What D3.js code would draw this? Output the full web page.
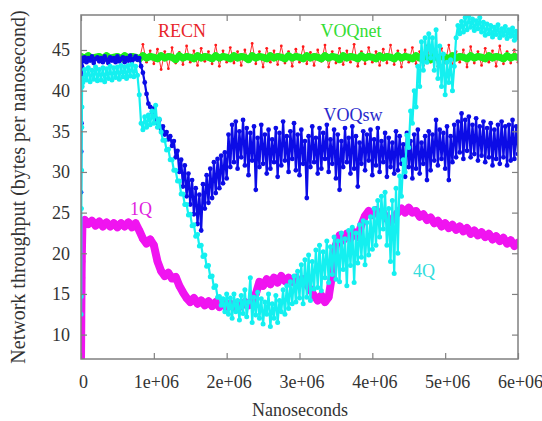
<!DOCTYPE html>
<html><head><meta charset="utf-8">
<script src="https://cdn.jsdelivr.net/npm/d3@7"></script>
<style>
body{margin:0;background:#fff}
svg text{font-family:"Liberation Serif","Times New Roman","DejaVu Serif",serif}
</style>
</head><body>
<svg id="c" width="542" height="421"></svg>
<script>
// ---------- data ----------
const xTicks = [0, 1e6, 2e6, 3e6, 4e6, 5e6, 6e6];
const xTickLabels = ["0", "1e+06", "2e+06", "3e+06", "4e+06", "5e+06", "6e+06"];
const yTicks = [10, 15, 20, 25, 30, 35, 40, 45];
const fineStep = 25000;    // ns between samples (VOQsw, 4Q)
const coarseStep = 50000;  // ns between samples (RECN, VOQnet, 1Q)

// RECN, samples at t = i*coarseStep, i = 0..120
const recn = [
 43.8,44.0,43.7,44.1,43.8,43.9,43.6,44.0,43.8,44.1,
 43.7,43.9,43.8,44.0,43.7,43.9,43.8,45.7,43.5,44.9,
 43.3,45.1,42.6,44.8,42.7,45.3,43.4,44.7,43.2,45.5,
 43.5,44.9,43.1,45.2,43.6,44.8,43.3,45.6,43.0,44.9,
 43.5,45.3,43.4,44.8,43.1,45.0,43.6,45.8,43.3,44.8,
 42.9,45.2,43.5,44.9,43.2,45.5,43.4,44.8,43.0,45.1,
 43.5,45.4,43.3,44.7,43.1,45.0,43.6,45.6,42.9,44.8,
 43.4,45.2,43.2,44.9,43.5,45.7,43.0,44.8,43.3,45.3,
 43.5,44.8,43.1,45.1,43.4,45.6,43.2,44.9,42.9,45.0,
 43.5,45.3,43.3,44.8,43.1,45.5,43.5,44.9,43.0,45.2,
 43.4,45.6,43.2,44.8,43.5,45.0,42.9,45.4,43.4,44.8,
 43.1,45.2,43.5,44.9,43.0,45.5,43.3,44.8,43.4,45.0,
 43.5];

// VOQnet, samples at t = i*coarseStep, i = 0..120
const voqnet = [
 44.2,44.0,44.3,43.9,44.1,44.2,43.9,44.3,44.0,44.1,
 44.2,43.9,44.3,44.0,44.2,44.1,43.9,44.3,44.0,44.2,
 44.1,43.9,44.3,44.0,44.2,44.1,43.8,44.3,44.0,44.2,
 44.1,43.9,44.3,44.0,44.2,44.1,43.9,44.3,44.0,44.2,
 44.1,43.9,44.3,44.0,44.2,44.1,43.8,44.3,44.0,44.2,
 44.1,43.9,44.3,44.0,44.2,44.1,43.9,44.3,44.0,44.2,
 44.1,43.9,44.3,44.0,44.2,44.1,43.9,44.3,44.0,44.2,
 44.1,43.8,44.3,44.0,44.2,44.1,43.9,44.3,44.0,44.2,
 44.1,43.9,44.3,44.0,44.2,44.1,43.9,44.3,44.0,44.2,
 44.1,43.9,44.3,44.0,44.2,44.1,43.8,44.3,44.0,44.2,
 44.1,43.9,44.3,44.0,44.2,44.1,43.9,44.3,44.0,44.2,
 44.1,43.9,44.3,44.0,44.2,44.1,43.9,44.3,44.0,44.2,
 44.1];

// VOQsw start-up samples, then t = i*fineStep, i = 1..240
const voqswStartT = [0, 3000, 6000, 9000, 12000, 16000, 20000];
const voqswStartV = [27.5, 32.5, 36.0, 40.5, 43.0, 43.8, 44.0];
const voqsw = [
 43.6,44.1,43.5,44.0,43.7,44.2,43.4,43.9,44.1,43.6,
 44.0,43.5,44.2,43.8,43.4,44.1,43.7,44.0,43.5,44.2,
 43.6,43.9,44.1,43.5,44.0,43.7,44.3,43.6,43.9,44.2,
 43.8,44.0,43.0,42.2,41.0,39.6,38.4,38.0,37.4,37.8,
 36.6,36.0,36.4,35.2,35.6,34.6,34.9,34.0,34.4,33.2,
 33.8,31.8,32.6,30.0,31.5,28.2,30.8,27.0,29.8,26.0,
 29.0,24.8,28.0,23.6,27.2,22.8,28.5,25.5,29.6,26.2,
 30.4,26.8,31.2,27.4,31.6,28.0,32.0,28.6,32.4,29.2,
 34.6,30.6,35.8,31.2,36.2,30.4,35.0,31.8,36.4,30.8,
 35.4,29.6,34.8,31.4,35.6,27.8,34.2,30.6,35.8,31.0,
 34.6,29.8,35.2,30.4,34.0,31.2,35.4,29.4,34.8,30.8,
 36.2,31.4,34.4,30.0,35.0,31.6,36.0,30.2,34.6,29.6,
 35.2,31.0,33.8,26.8,34.4,30.6,35.6,31.2,34.2,29.8,
 35.4,30.4,34.8,31.6,35.8,30.0,34.0,31.0,35.2,29.2,
 34.6,27.8,33.8,30.6,35.4,31.2,34.2,29.8,35.6,30.4,
 34.4,28.2,33.6,31.0,35.0,30.2,34.6,31.4,35.2,29.6,
 34.0,30.8,35.4,30.0,33.8,31.2,34.8,29.4,34.2,30.6,
 33.6,29.8,35.0,30.2,34.4,31.0,33.4,29.4,34.8,30.6,
 33.8,29.2,34.6,30.4,35.2,29.8,33.6,31.0,34.4,29.0,
 35.0,30.2,34.6,31.4,36.4,30.8,35.2,31.6,34.8,30.4,
 35.6,29.0,34.4,31.2,35.8,31.8,36.2,32.4,37.2,31.6,
 36.4,32.6,36.8,31.8,35.8,32.2,36.6,31.4,35.6,32.0,
 36.2,31.2,35.4,31.8,36.0,30.8,35.2,31.6,35.8,31.0,
 36.2,31.8,35.6,30.8,35.8,31.4,36.4,31.6,35.6,32.2];

// 1Q start-up samples, then t = i*coarseStep, i = 1..120
const oneQStartT = [0, 2000, 4000, 6000, 8000, 10000, 14000, 18000, 22000];
const oneQStartV = [7.0, 9.5, 12.0, 14.7, 17.0, 19.0, 21.0, 22.8, 23.8];
const oneQ = [
 24.1,23.6,24.0,23.4,23.9,23.3,23.8,23.3,23.7,23.2,
 23.7,23.3,23.8,23.2,23.7,22.8,21.8,21.2,21.7,21.0,
 19.0,17.8,17.2,17.6,16.9,17.1,16.0,15.2,14.5,14.0,
 14.5,13.8,14.2,13.6,14.1,13.5,14.0,13.4,13.9,13.3,
 13.8,13.4,13.9,13.5,14.0,13.6,14.0,15.0,16.5,16.0,
 16.8,16.2,17.0,16.4,17.2,16.6,17.0,16.5,17.0,16.4,
 16.8,16.2,15.5,14.8,14.2,14.8,14.0,14.6,17.5,21.0,
 22.2,21.6,22.4,21.8,22.6,22.0,23.5,24.6,25.2,24.7,
 25.3,24.8,25.0,24.2,23.8,24.5,25.0,25.5,25.0,25.6,
 25.0,25.2,24.5,24.8,24.1,24.4,23.7,24.0,23.3,23.7,
 23.1,23.5,22.9,23.3,22.7,23.1,22.4,22.8,22.2,22.6,
 22.0,22.4,21.7,22.1,21.5,21.9,21.2,21.6,20.9,21.3];

// 4Q start-up samples, then t = i*fineStep, i = 1..240
const fourQStartT = [0, 2500, 5000, 7500, 10000, 12500, 15000, 20000];
const fourQStartV = [12.5, 14.7, 25.5, 30.2, 35.5, 38.0, 40.5, 41.5];
const fourQ = [
 41.0,42.6,41.3,42.8,41.1,42.5,41.4,42.9,41.2,42.6,
 41.3,42.8,41.1,42.7,41.5,43.0,41.3,42.8,41.6,42.9,
 41.4,43.1,41.7,42.9,41.5,43.1,41.8,43.2,41.7,43.0,
 41.9,39.5,36.0,35.2,36.8,35.5,37.0,35.8,37.5,36.0,
 38.2,35.5,36.5,34.9,33.9,33.9,32.7,32.8,31.5,31.5,
 30.2,30.2,28.9,28.9,27.3,27.3,26.0,26.0,24.7,24.8,
 23.4,23.5,22.1,22.3,20.9,21.0,19.6,19.8,18.4,18.5,
 17.1,17.2,15.8,16.0,14.6,14.7,13.6,14.4,12.8,15.0,
 12.5,14.5,12.0,15.0,12.8,14.2,11.8,14.8,12.6,15.5,
 12.2,14.0,17.0,11.5,14.6,12.4,15.2,12.0,14.4,11.3,
 14.0,12.5,15.0,11.0,13.8,12.0,14.8,11.5,14.2,12.8,
 15.5,12.5,16.0,13.2,16.5,13.8,17.2,14.0,17.8,14.5,
 18.6,13.8,19.2,14.6,19.8,14.2,19.0,15.6,20.4,15.8,
 21.0,15.4,20.2,17.0,21.5,16.4,20.8,17.4,22.0,16.8,
 21.5,16.5,22.5,18.0,21.8,16.0,22.8,18.5,23.2,16.4,
 22.5,18.8,23.5,19.5,24.0,18.6,23.8,19.8,24.5,20.5,
 25.5,21.0,26.5,22.0,27.0,23.0,27.5,21.0,25.5,19.0,
 26.5,17.5,28.0,20.0,29.5,27.0,31.5,30.0,34.5,33.0,
 37.5,36.0,40.0,38.0,43.0,40.5,46.0,42.5,46.5,43.5,
 47.0,44.0,46.5,42.5,47.5,41.5,45.5,40.5,44.5,39.5,
 43.5,41.0,43.8,40.0,43.0,46.5,48.0,47.0,48.5,47.2,
 49.0,47.5,49.2,47.8,48.8,47.4,48.6,47.6,49.0,47.2,
 48.4,46.8,48.2,47.0,48.0,46.6,47.8,46.9,48.1,46.5,
 47.6,46.8,47.9,46.4,47.5,46.7,47.7,46.2,47.3,46.5];

// ---------- chart ----------
const FONT = "'Liberation Serif','Times New Roman','DejaVu Serif',serif";
const svg = d3.select("#c");
const x = d3.scaleLinear().domain([0, 6e6]).range([81, 518]);
const y = d3.scaleLinear().domain([7, 49.3]).range([359, 15]);

svg.append("rect").attr("width", 542).attr("height", 421).attr("fill", "#fff");
svg.append("clipPath").attr("id", "plot").append("rect")
  .attr("x", 81).attr("y", 15).attr("width", 437).attr("height", 344);

function build(startT, startV, vals, step, first) {
  const pts = startT.map((t, i) => [t, startV[i]]);
  vals.forEach((v, i) => pts.push([(i + first) * step, v]));
  return pts;
}

const series = [
  {pts: build([], [], recn, coarseStep, 0), color: "#ff1a1a", lw: 0.9, r: 1.4},
  {pts: build([], [], voqnet, coarseStep, 0), color: "#1cef1c", lw: 7, r: 3.2},
  {pts: build(voqswStartT, voqswStartV, voqsw, fineStep, 1), color: "#0c0ce6", lw: 2.2, r: 2.4},
  {pts: build(oneQStartT, oneQStartV, oneQ, coarseStep, 1), color: "#f014f0", lw: 8, r: 3.6},
  {pts: build(fourQStartT, fourQStartV, fourQ, fineStep, 1), color: "#14f0f0", lw: 2.2, r: 2.5}
];

const g = svg.append("g").attr("clip-path", "url(#plot)");
const line = d3.line().x(d => x(d[0])).y(d => y(d[1]));
series.forEach(s => {
  const sg = g.append("g");
  sg.append("path").datum(s.pts).attr("d", line)
    .attr("fill", "none").attr("stroke", s.color).attr("stroke-width", s.lw)
    .attr("stroke-linejoin", "round").attr("stroke-linecap", "round");
  sg.selectAll("circle").data(s.pts).join("circle")
    .attr("cx", d => x(d[0])).attr("cy", d => y(d[1])).attr("r", s.r)
    .attr("fill", s.color);
});

// axes (inward ticks on all four sides)
const axisColor = "#808080";
function styleAxis(sel) {
  sel.attr("font-family", FONT);
  sel.select(".domain").remove();
  sel.selectAll(".tick line").attr("stroke", axisColor).attr("stroke-width", 1.2);
  sel.selectAll(".tick text").attr("fill", "#333").attr("font-size", 18)
    .attr("font-family", FONT);
}
svg.append("g").attr("transform", "translate(0,359)")
  .call(d3.axisBottom(x).tickValues(xTicks).tickFormat((d, i) => xTickLabels[i]).tickSize(-6).tickPadding(16))
  .call(styleAxis).selectAll(".tick text").attr("dx", 2);
svg.append("g").attr("transform", "translate(0,15)")
  .call(d3.axisTop(x).tickValues(xTicks).tickFormat("").tickSize(-6)).call(styleAxis);
svg.append("g").attr("transform", "translate(81,0)")
  .call(d3.axisLeft(y).tickValues(yTicks).tickSize(-6).tickPadding(11)).call(styleAxis);
svg.append("g").attr("transform", "translate(518,0)")
  .call(d3.axisRight(y).tickValues(yTicks).tickFormat("").tickSize(-6)).call(styleAxis);

svg.append("rect").attr("x", 81).attr("y", 15).attr("width", 437).attr("height", 344)
  .attr("fill", "none").attr("stroke", axisColor).attr("stroke-width", 1.5);

// titles
svg.append("text").attr("x", 300).attr("y", 416).attr("text-anchor", "middle")
  .attr("font-family", FONT).attr("font-size", 18).attr("fill", "#333").text("Nanoseconds");
svg.append("text").attr("transform", "translate(25,187) rotate(-90)").attr("text-anchor", "middle")
  .attr("font-family", FONT).attr("font-size", 20).attr("fill", "#333")
  .text("Network throughput (bytes per nanosecond)");

// series labels
const labels = [
  {t: "RECN", x: 182, y: 37, c: "#e8262a"},
  {t: "VOQnet", x: 351, y: 37, c: "#33dd33"},
  {t: "VOQsw", x: 353, y: 121, c: "#2a2acc"},
  {t: "1Q", x: 141, y: 215, c: "#e020e0"},
  {t: "4Q", x: 424, y: 277, c: "#33dddd"}
];
svg.selectAll(".lbl").data(labels).join("text").attr("class", "lbl")
  .attr("x", d => d.x).attr("y", d => d.y).attr("text-anchor", "middle")
  .attr("font-family", FONT).attr("font-size", 18).attr("fill", d => d.c).text(d => d.t);
</script>
</body></html>
